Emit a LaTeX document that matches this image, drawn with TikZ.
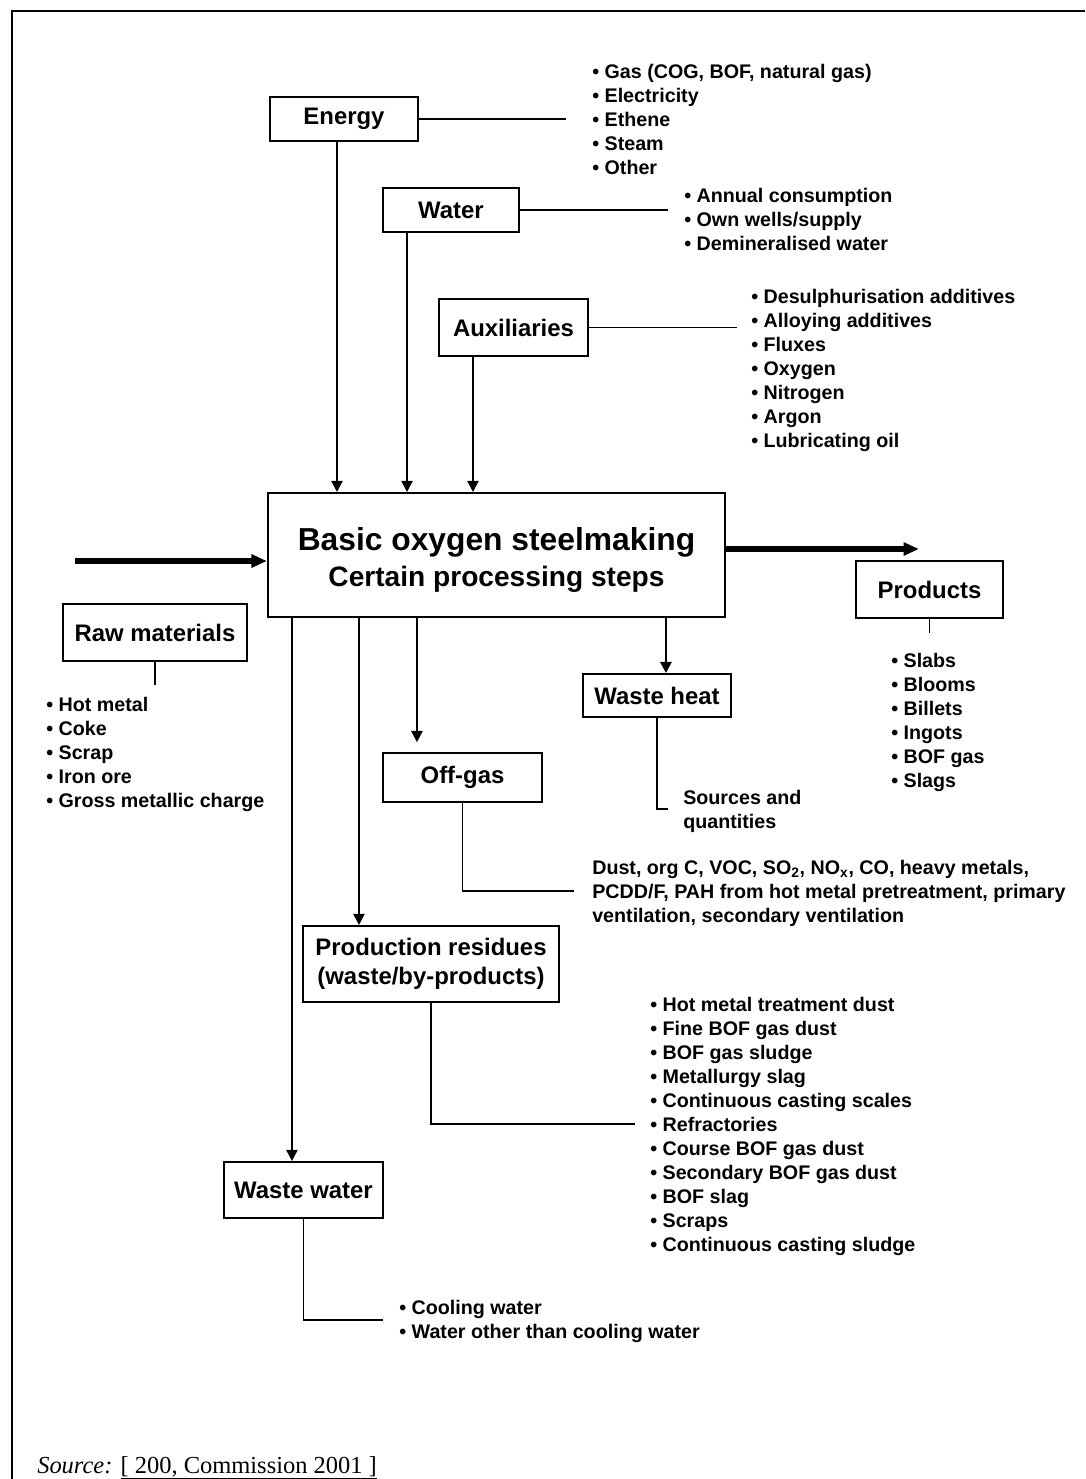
\documentclass[tikz,border=0pt]{standalone}
\usepackage{fontspec}
\setmainfont{Liberation Sans}
\newfontfamily\srcfont{Liberation Serif}
\usetikzlibrary{arrows.meta,positioning,calc}

\begin{document}
\begin{tikzpicture}[
  x=0.025cm, y=-0.025cm,
  every node/.style={font=\bfseries},
  flowbox/.style={draw,line width=1.4pt,inner sep=0pt,align=center,
                  font=\fontsize{17}{20.6}\selectfont\bfseries},
  itemlist/.style={anchor=north west,inner sep=0pt,align=left,
                   font=\fontsize{14}{17.07}\selectfont\bfseries},
  link/.style={line width=0.8pt},
  arr/.style={line width=1.4pt,-{Triangle[length=8pt,width=8pt]}},
  bigarr/.style={line width=3.6pt,-{Triangle[length=11pt,width=9pt]}},
]
  \useasboundingbox (0,0) rectangle (1085,1479);
  % Frame
  \draw[line width=1.4pt] (1085,11) -- (12,11) -- (12,1479);

  % Inputs
  \node[flowbox,minimum width=3.7cm,minimum height=1.1cm] (energy) at (344,119) {Energy};
  \node[flowbox,minimum width=3.4cm,minimum height=1.1cm] (water) at (451,210) {Water};
  \node[flowbox,minimum width=3.725cm,minimum height=1.425cm] (aux) at (513.5,327.5) {Auxiliaries};

  % Main process
  \node[flowbox,minimum width=11.425cm,minimum height=3.1cm,
        font=\fontsize{20}{25.6}\selectfont\bfseries] (bos) at (496.5,555)
    {\rule{0pt}{23.5pt}{\fontsize{22.6}{25.6}\selectfont Basic oxygen steelmaking}\\Certain processing steps};

  % Outputs
  \node[flowbox,minimum width=3.675cm,minimum height=1.425cm] (products) at (929.5,589.5) {Products};
  \node[flowbox,minimum width=4.6cm,minimum height=1.425cm] (raw) at (155,632.5) {Raw materials};
  \node[flowbox,minimum width=3.7cm,minimum height=1.075cm] (heat) at (657,695.5) {Waste heat};
  \node[flowbox,minimum width=3.975cm,minimum height=1.225cm] (offgas) at (462.5,777.5) {Off-gas};
  \node[flowbox,minimum width=6.4cm,minimum height=1.9cm] (residues) at (431,964)
    {Production residues\\(waste/by-products)};
  \node[flowbox,minimum width=3.975cm,minimum height=1.4cm] (wwater) at (303.5,1190) {Waste water};

  % Item lists
  \node[itemlist] (energyList) at (592,64)
    {• Gas (COG, BOF, natural gas)\\• Electricity\\• Ethene\\• Steam\\• Other};
  \node[itemlist] (waterList) at (684,188)
    {• Annual consumption\\• Own wells/supply\\• Demineralised water};
  \node[itemlist] (auxList) at (751,289)
    {• Desulphurisation additives\\• Alloying additives\\• Fluxes\\• Oxygen\\• Nitrogen\\• Argon\\• Lubricating oil};
  \node[itemlist] (productsList) at (891,653)
    {• Slabs\\• Blooms\\• Billets\\• Ingots\\• BOF gas\\• Slags};
  \node[itemlist] (rawList) at (46,697)
    {• Hot metal\\• Coke\\• Scrap\\• Iron ore\\• Gross metallic charge};
  \node[itemlist] (heatList) at (683,790) {Sources and\\quantities};
  \node[itemlist] (offgasList) at (592,860)
    {Dust, org C, VOC, SO\textsubscript{2}, NO\textsubscript{x}, CO, heavy metals,\\
     PCDD/F, PAH from hot metal pretreatment, primary\\ventilation, secondary ventilation};
  \node[itemlist] (residuesList) at (650,997)
    {• Hot metal treatment dust\\• Fine BOF gas dust\\• BOF gas sludge\\• Metallurgy slag\\
     • Continuous casting scales\\• Refractories\\• Course BOF gas dust\\• Secondary BOF gas dust\\
     • BOF slag\\• Scraps\\• Continuous casting sludge};
  \node[itemlist] (wwaterList) at (399,1300)
    {• Cooling water\\• Water other than cooling water};

  % Links to the lists
  \coordinate (energyEnd) at (566,119);
  \coordinate (waterEnd) at (668,210);
  \coordinate (auxEnd) at (737,327.5);
  \draw[link] (energy.east) -- (energyEnd);
  \draw[link] (water.east) -- (waterEnd);
  \draw[link] (aux.east) -- (auxEnd);
  \draw[link] (products.south) -- ++(0,14);
  \draw[link] (raw.south) -- ++(0,23);
  \draw[link] (heat.south) |- ++(11,91);
  \draw[link] (offgas.south) |- ++(111.5,88);
  \draw[link] (residues.south) |- ++(204,121);
  \draw[link] (wwater.south) |- ++(79.5,101);

  % Flows into the process
  \coordinate (e1) at ([shift={(-7,0)}]energy.south);
  \coordinate (w1) at ([shift={(-44,0)}]water.south);
  \coordinate (a1) at ([shift={(-40.5,0)}]aux.south);
  \draw[arr] (e1) -- (e1 |- bos.north);
  \draw[arr] (w1) -- (w1 |- bos.north);
  \draw[arr] (a1) -- (a1 |- bos.north);
  \coordinate (rawIn) at (75,561);
  \draw[bigarr] (rawIn) -- (rawIn -| bos.west);

  % Flows out of the process
  \coordinate (prodOut) at (919,549);
  \draw[bigarr] (prodOut -| bos.east) -- (prodOut);
  \coordinate (o1) at ([shift={(25,0)}]bos.south west);
  \coordinate (o2) at ([shift={(92,0)}]bos.south west);
  \coordinate (o3) at ([shift={(150,0)}]bos.south west);
  \coordinate (o4) at ([shift={(399,0)}]bos.south west);
  \draw[arr] (o1) -- (o1 |- wwater.north);
  \draw[arr] (o2) -- (o2 |- residues.north);
  \draw[arr,shorten >=7pt] (o3) -- (o3 |- offgas.north);
  \draw[arr,line width=2pt] (o4) -- (o4 |- heat.north);

  % Source
  \node[anchor=base west,inner sep=0pt,font=\srcfont\fontsize{17.4}{20}\selectfont] (source) at (37,1473)
    {\textit{Source:} \underline{[ 200, Commission 2001 ]}};
\end{tikzpicture}
\end{document}
